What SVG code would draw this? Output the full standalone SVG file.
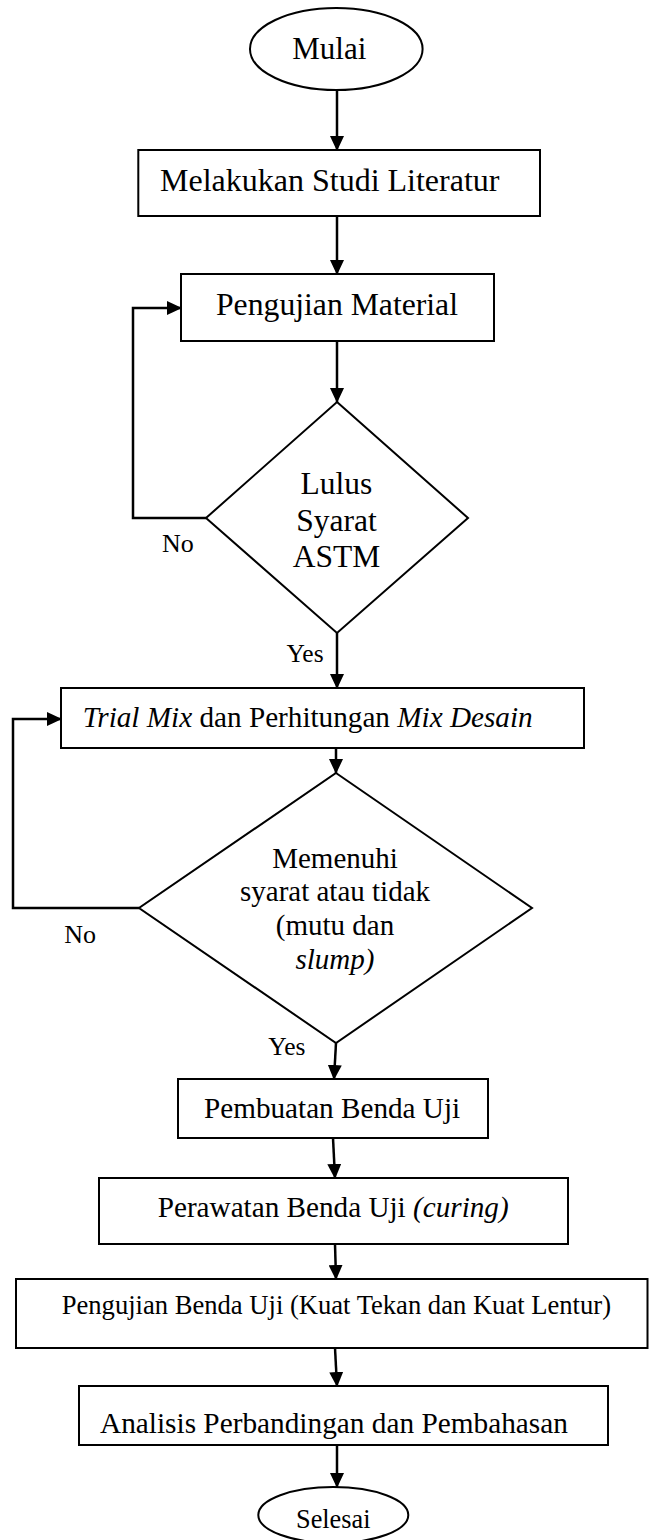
<svg xmlns="http://www.w3.org/2000/svg" width="649" height="1540" viewBox="0 0 649 1540">
<style>
.shape{fill:#fff;stroke:#000;stroke-width:2}
.conn{fill:none;stroke:#000;stroke-width:2.5}
text{font-family:"Liberation Serif","Times New Roman",serif;fill:#000}
.it{font-style:italic}
</style>
<defs>
<marker id="arr" viewBox="0 0 15 14" refX="14" refY="7" markerWidth="15" markerHeight="14" markerUnits="userSpaceOnUse" orient="auto">
<path d="M0,0 L15,7 L0,14 z" fill="#000"/>
</marker>
</defs>
<rect width="649" height="1540" fill="#fff"/>
<g id="connectors">
<path class="conn" d="M337,90 L337,150" marker-end="url(#arr)"/>
<path class="conn" d="M337,216 L337,274" marker-end="url(#arr)"/>
<path class="conn" d="M337,341 L337,402" marker-end="url(#arr)"/>
<path class="conn" d="M206,518 L133,518 L133,308 L181,308" marker-end="url(#arr)"/>
<path class="conn" d="M337,633 L337,688" marker-end="url(#arr)"/>
<path class="conn" d="M336,748 L336,773" marker-end="url(#arr)"/>
<path class="conn" d="M139,908 L13,908 L13,719 L61,719" marker-end="url(#arr)"/>
<path class="conn" d="M336,1043 L334,1079" marker-end="url(#arr)"/>
<path class="conn" d="M333,1138 L335,1178" marker-end="url(#arr)"/>
<path class="conn" d="M335,1244 L336,1279" marker-end="url(#arr)"/>
<path class="conn" d="M335,1348 L337,1386" marker-end="url(#arr)"/>
<path class="conn" d="M337,1445 L337,1487" marker-end="url(#arr)"/>
</g>
<g id="mulai">
<ellipse class="shape" cx="336.3" cy="49" rx="86.3" ry="41"/>
<text x="292.3" y="59.3" font-size="31">Mulai</text>
</g>
<g id="studi">
<rect class="shape" x="138.3" y="150" width="401.7" height="66"/>
<text x="160" y="190.7" font-size="32">Melakukan Studi Literatur</text>
</g>
<g id="material">
<rect class="shape" x="181" y="274" width="313" height="67"/>
<text x="216" y="315" font-size="31.7">Pengujian Material</text>
</g>
<g id="astm">
<polygon class="shape" points="337,402 468,518 337,633 206,518"/>
<text x="336.5" y="494" font-size="31.5" text-anchor="middle">Lulus</text>
<text x="336.5" y="530.7" font-size="31.5" text-anchor="middle">Syarat</text>
<text x="336.5" y="567.3" font-size="31.5" text-anchor="middle">ASTM</text>
</g>
<g id="label-no1"><text x="162" y="551.7" font-size="26">No</text></g>
<g id="label-yes1"><text x="286.5" y="662" font-size="25.5">Yes</text></g>
<g id="trial">
<rect class="shape" x="61" y="688" width="523" height="60"/>
<text x="82.7" y="726.7" font-size="29.2"><tspan class="it">Trial Mix</tspan> dan Perhitungan <tspan class="it">Mix Desain</tspan></text>
</g>
<g id="syarat">
<polygon class="shape" points="336,773 532,908 336,1043 139,908"/>
<text x="335" y="867.5" font-size="29" text-anchor="middle">Memenuhi</text>
<text x="335" y="900.5" font-size="29" text-anchor="middle">syarat atau tidak</text>
<text x="335" y="935" font-size="29" text-anchor="middle">(mutu dan</text>
<text x="335" y="968.5" font-size="29" text-anchor="middle" class="it">slump)</text>
</g>
<g id="label-no2"><text x="64.3" y="943.3" font-size="26">No</text></g>
<g id="label-yes2"><text x="268.3" y="1055" font-size="25.5">Yes</text></g>
<g id="pembuatan">
<rect class="shape" x="178" y="1079" width="310" height="59"/>
<text x="204" y="1118.3" font-size="29.2">Pembuatan Benda Uji</text>
</g>
<g id="perawatan">
<rect class="shape" x="99" y="1178" width="469" height="66"/>
<text x="157.7" y="1216.7" font-size="29.2">Perawatan Benda Uji <tspan class="it">(curing)</tspan></text>
</g>
<g id="pengujian-benda">
<rect class="shape" x="16" y="1279" width="631.5" height="69"/>
<text x="61.7" y="1314" font-size="26.6">Pengujian Benda Uji (Kuat Tekan dan Kuat Lentur)</text>
</g>
<g id="analisis">
<rect class="shape" x="79" y="1386" width="529" height="59"/>
<text x="100" y="1433.3" font-size="29.3">Analisis Perbandingan dan Pembahasan</text>
</g>
<g id="selesai">
<ellipse class="shape" cx="333.3" cy="1515" rx="75" ry="28"/>
<text x="296" y="1527.5" font-size="26.3">Selesai</text>
</g>
</svg>
